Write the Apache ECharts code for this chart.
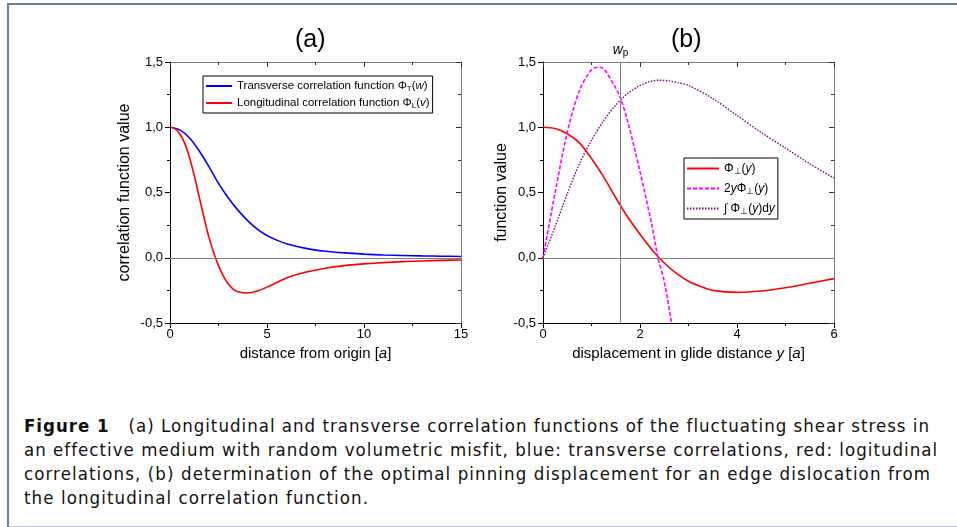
<!DOCTYPE html>
<html>
<head>
<meta charset="utf-8">
<script src="https://cdn.jsdelivr.net/npm/echarts@6/dist/echarts.min.js"></script>
<style>
  body { margin: 0; background: #fff; }
  #frame {
    position: absolute; left: 7px; top: 3px; width: 960px; height: 521px;
    border-top: 2px solid #6a809b; border-left: 2px solid #6a809b;
    border-bottom: 2px solid #b9c7d7;
  }
  #chart { position: absolute; left: 0; top: 0; width: 957px; height: 395px; }
  #caption {
    position: absolute; left: 24px; top: 414px;
    font-family: "DejaVu Sans Condensed", "DejaVu Sans", sans-serif; font-stretch: condensed;
    font-size: 18.5px; line-height: 24px;
    color: #111; white-space: nowrap;
  }
  #caption div { width: max-content; }
  #caption b { font-weight: bold; }
</style>
</head>
<body>
<div id="frame"></div>
<div id="chart"></div>
<div id="caption">
  <div><b>Figure 1</b>&nbsp;&nbsp;&nbsp;(a) Longitudinal and transverse correlation functions of the fluctuating shear stress in</div>
  <div>an effective medium with random volumetric misfit, blue: transverse correlations, red: logitudinal</div>
  <div>correlations, (b) determination of the optimal pinning displacement for an edge dislocation from</div>
  <div>the longitudinal correlation function.</div>
</div>
<script>
// (a) 横向 / 纵向相关函数
const aTransX = [0, 0.5, 1, 1.5, 2, 2.5, 3, 3.5, 4, 4.5, 5, 5.5, 6, 7, 8, 9, 10, 11, 12, 13, 14, 15];
const aTransY = [1.0, 0.98, 0.92, 0.82, 0.70, 0.57, 0.46, 0.365, 0.285, 0.22, 0.17, 0.135, 0.108, 0.072, 0.05, 0.037, 0.028, 0.021, 0.017, 0.014, 0.012, 0.01];
const aLongX = [0, 0.25, 0.5, 0.75, 1, 1.25, 1.5, 1.75, 2, 2.25, 2.5, 2.75, 3, 3.25, 3.5, 4, 4.5, 5, 5.5, 6, 6.5, 7, 8, 9, 10, 11, 12, 13, 14, 15];
const aLongY = [1.0, 0.99, 0.95, 0.88, 0.77, 0.63, 0.47, 0.31, 0.16, 0.04, -0.06, -0.14, -0.2, -0.24, -0.26, -0.27, -0.255, -0.225, -0.19, -0.155, -0.13, -0.11, -0.08, -0.06, -0.047, -0.037, -0.03, -0.025, -0.02, -0.017];

// (b) 最佳钉扎位移
const bPerpX = [0, 0.25, 0.5, 0.75, 1, 1.25, 1.5, 1.75, 2, 2.25, 2.5, 2.75, 3, 3.25, 3.5, 4, 4.5, 5, 5.5, 6];
const bPerpY = [1.0, 0.99, 0.95, 0.88, 0.76, 0.62, 0.46, 0.31, 0.18, 0.06, -0.04, -0.12, -0.18, -0.22, -0.25, -0.265, -0.255, -0.23, -0.195, -0.16];
const bTwoYX = [0, 0.25, 0.5, 0.75, 1, 1.15, 1.25, 1.5, 1.6, 1.75, 2, 2.25, 2.37, 2.5, 2.65];
const bTwoYY = [0, 0.5, 0.96, 1.28, 1.44, 1.46, 1.45, 1.3, 1.22, 1.04, 0.66, 0.24, 0, -0.18, -0.5];
const bIntX = [0, 0.25, 0.5, 0.75, 1, 1.25, 1.5, 1.75, 2, 2.25, 2.4, 2.6, 2.8, 3, 3.5, 4, 4.5, 5, 5.5, 6];
const bIntY = [0, 0.24, 0.49, 0.72, 0.9, 1.05, 1.17, 1.26, 1.32, 1.355, 1.36, 1.355, 1.34, 1.32, 1.22, 1.09, 0.96, 0.84, 0.72, 0.61];
const wp = 1.6;

// 图注每行的目标宽度
const captionWidths = [906, 914, 907, 345];

const yTicks = { min: -0.5, max: 1.5, interval: 0.5 };
const pairs = (xs, ys) => xs.map((x, i) => [x, ys[i]]);
const comma = (v) => v.toFixed(1).replace(".", ",");

const font = "Liberation Sans, Arial, sans-serif";

const rich = {
  n: { fontSize: 11.5, fontFamily: font, color: "#000", lineHeight: 14 },
  i: { fontSize: 11.5, fontFamily: font, color: "#000", fontStyle: "italic", lineHeight: 14 },
  s: { fontSize: 8, fontFamily: font, color: "#000", padding: [6, 0, 0, 0], lineHeight: 8 },
};
const richB = {
  n: { fontSize: 12, fontFamily: font, color: "#000", lineHeight: 14 },
  i: { fontSize: 12, fontFamily: font, color: "#000", fontStyle: "italic", lineHeight: 14 },
  s: { fontSize: 9, fontFamily: font, color: "#000", padding: [6, 0, 0, 0], lineHeight: 9 },
};
const nameRich = {
  n: { fontSize: 15, fontFamily: font, color: "#000" },
  i: { fontSize: 15, fontFamily: font, color: "#000", fontStyle: "italic" },
};

const legendText = {
  trans: "{n|Transverse correlation function Φ}{s|T}{n|(}{i|w}{n|)}",
  long: "{n|Longitudinal correlation function Φ}{s|L}{n|(}{i|v}{n|)}",
  perp: "{n|Φ}{s|⊥}{n|(}{i|y}{n|)}",
  twoy: "{n|2}{i|y}{n|Φ}{s|⊥}{n|(}{i|y}{n|)}",
  integ: "{n|∫ Φ}{s|⊥}{n|(}{i|y}{n|)d}{i|y}",
};

// 主坐标轴（底部 / 左侧，刻度朝外）
const mainX = (grid, max, interval, name) => ({
  gridIndex: grid, type: "value", position: "bottom", min: 0, max, interval,
  axisLine: { onZero: false, lineStyle: { color: "#000", width: 1 } },
  axisTick: { inside: false, length: 5, lineStyle: { color: "#000" } },
  minorTick: { show: true, splitNumber: 2, length: 3, lineStyle: { color: "#000" } },
  splitLine: { show: false },
  axisLabel: { color: "#000", fontSize: 13, fontFamily: font, margin: 5 },
  name, nameLocation: "middle", nameGap: 20,
  nameTextStyle: { color: "#000", fontSize: 15, fontFamily: font, rich: nameRich },
});
const mainY = (grid, name, gap) => ({
  gridIndex: grid, type: "value", position: "left", ...yTicks,
  axisLine: { onZero: false, lineStyle: { color: "#000", width: 1 } },
  axisTick: { inside: false, length: 5, lineStyle: { color: "#000" } },
  minorTick: { show: true, splitNumber: 2, length: 3, lineStyle: { color: "#000" } },
  splitLine: { show: false },
  axisLabel: { color: "#000", fontSize: 13, fontFamily: font, margin: 7, formatter: comma },
  name, nameLocation: "middle", nameGap: gap,
  nameTextStyle: { color: "#000", fontSize: 16, fontFamily: font },
});
// 镜像坐标轴（顶部 / 右侧，刻度朝内）
const mirrorX = (grid, max, interval) => ({
  gridIndex: grid, type: "value", position: "top", min: 0, max, interval,
  axisLine: { onZero: false, lineStyle: { color: "#777", width: 1 } },
  axisTick: { inside: true, length: 5, lineStyle: { color: "#333" } },
  minorTick: { show: true, splitNumber: 2, length: 3, lineStyle: { color: "#333" } },
  splitLine: { show: false },
  axisLabel: { show: false },
});
const mirrorY = (grid) => ({
  gridIndex: grid, type: "value", position: "right", ...yTicks,
  axisLine: { onZero: false, lineStyle: { color: "#777", width: 1 } },
  axisTick: { inside: true, length: 5, lineStyle: { color: "#333" } },
  minorTick: { show: true, splitNumber: 2, length: 3, lineStyle: { color: "#333" } },
  splitLine: { show: false },
  axisLabel: { show: false },
});

const zeroLine = {
  silent: true, symbol: "none", label: { show: false },
  lineStyle: { color: "#808080", width: 1, type: "solid" },
  data: [{ yAxis: 0 }],
};

const legendBase = {
  orient: "vertical", borderColor: "#000", borderWidth: 1,
  itemHeight: 10, itemGap: 3, selectedMode: false,
  itemStyle: { opacity: 0 },
  formatter: (name) => legendText[name],
};

const chart = echarts.init(document.getElementById("chart"));
chart.setOption({
  animation: false,
  textStyle: { fontFamily: font },
  title: [
    { text: "(a)", left: 290, top: 23, textStyle: { fontSize: 25, fontWeight: "normal", color: "#000", fontFamily: font } },
    { text: "(b)", left: 666, top: 23, textStyle: { fontSize: 25, fontWeight: "normal", color: "#000", fontFamily: font } },
  ],
  grid: [
    { left: 170, top: 62, width: 291, height: 261 },
    { left: 543, top: 62, width: 291, height: 261 },
  ],
  xAxis: [
    mainX(0, 15, 5, "{n|distance from origin [}{i|a}{n|]}"),
    mirrorX(0, 15, 5),
    mainX(1, 6, 2, "{n|displacement in glide distance }{i|y}{n| [}{i|a}{n|]}"),
    mirrorX(1, 6, 2),
  ],
  yAxis: [
    mainY(0, "correlation function value", 37),
    mirrorY(0),
    mainY(1, "function value", 30),
    mirrorY(1),
  ],
  legend: [
    {
      ...legendBase, data: ["trans", "long"], left: 203, top: 76, itemWidth: 26,
      padding: [3, 3, 3, 2], textStyle: { rich, fontSize: 11.5 },
    },
    {
      ...legendBase, data: ["perp", "twoy", "integ"], left: 684, top: 158, itemWidth: 32,
      itemGap: 5, padding: [3, 3, 3, 2], textStyle: { rich: richB, fontSize: 12 },
    },
  ],
  series: [
    {
      name: "trans", type: "line", xAxisIndex: 0, yAxisIndex: 0,
      data: pairs(aTransX, aTransY), smooth: 0.3, symbol: "none",
      lineStyle: { color: "#0000ff", width: 1.6 }, itemStyle: { color: "#0000ff" },
      markLine: zeroLine, z: 3,
    },
    {
      name: "long", type: "line", xAxisIndex: 0, yAxisIndex: 0,
      data: pairs(aLongX, aLongY), smooth: 0.3, symbol: "none",
      lineStyle: { color: "#ff0000", width: 1.6 }, itemStyle: { color: "#ff0000" }, z: 3,
    },
    {
      name: "perp", type: "line", xAxisIndex: 2, yAxisIndex: 2,
      data: pairs(bPerpX, bPerpY), smooth: 0.3, symbol: "none",
      lineStyle: { color: "#ff0000", width: 1.6 }, itemStyle: { color: "#ff0000" },
      markLine: {
        silent: true, symbol: "none",
        lineStyle: { color: "#808080", width: 1, type: "solid" },
        data: [
          { yAxis: 0, label: { show: false } },
          {
            xAxis: wp,
            label: {
              show: true, position: "end", distance: 4,
              formatter: "{i|w}{s|p}",
              rich: {
                i: { fontSize: 14, fontStyle: "italic", color: "#000", fontFamily: font },
                s: { fontSize: 10, color: "#000", fontFamily: font, padding: [6, 0, 0, 0] },
              },
            },
          },
        ],
      },
      z: 3,
    },
    {
      name: "twoy", type: "line", xAxisIndex: 2, yAxisIndex: 2,
      data: pairs(bTwoYX, bTwoYY), smooth: 0.3, symbol: "none",
      lineStyle: { color: "#ff00ff", width: 1.6, type: [4, 2] }, itemStyle: { color: "#ff00ff" }, z: 3,
    },
    {
      name: "integ", type: "line", xAxisIndex: 2, yAxisIndex: 2,
      data: pairs(bIntX, bIntY), smooth: 0.3, symbol: "none",
      lineStyle: { color: "#800080", width: 1.4, type: [1.5, 1.5] }, itemStyle: { color: "#800080" }, z: 3,
    },
  ],
});

// 按目标宽度调整图注字距
document.querySelectorAll("#caption div").forEach((line, i) => {
  const natural = line.getBoundingClientRect().width;
  const n = line.textContent.length;
  line.style.letterSpacing = ((captionWidths[i] - natural) / n).toFixed(3) + "px";
});
</script>
</body>
</html>
